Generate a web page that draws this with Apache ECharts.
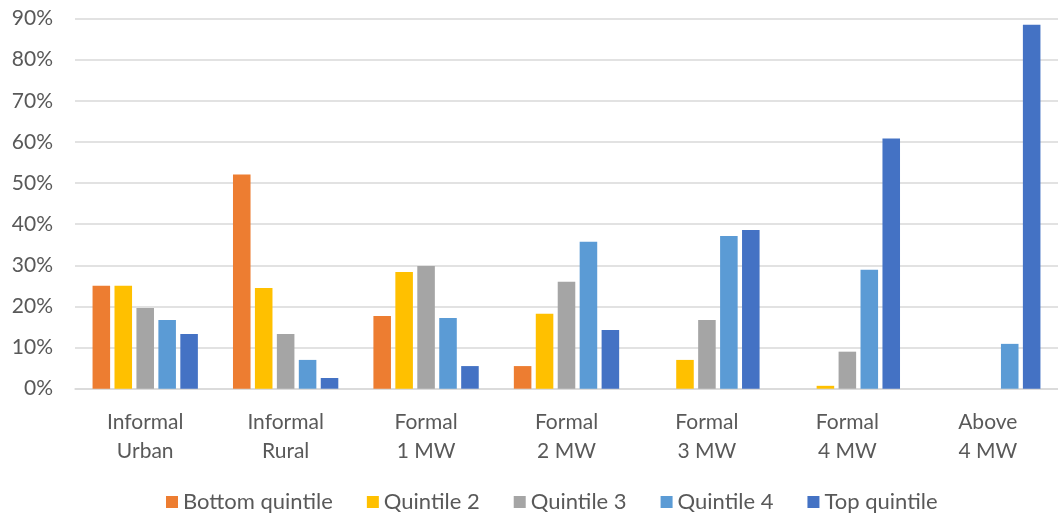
<!DOCTYPE html>
<html>
<head>
<meta charset="utf-8">
<script src="https://cdn.jsdelivr.net/npm/echarts@6/dist/echarts.min.js"></script>
<style>
  html, body { margin: 0; padding: 0; background: #ffffff; }
  #chart { width: 1058px; height: 516px; }
</style>
</head>
<body>
<div id="chart"></div>
<script>
// Grid-connection categories (two-line labels)
const categories = [
  'Informal\nUrban', 'Informal\nRural', 'Formal\n1 MW', 'Formal\n2 MW',
  'Formal\n3 MW', 'Formal\n4 MW', 'Above\n4 MW'
];

// Share of households per income quintile, in percent
const bottomQuintile = [25.0, 52.1, 17.7, 5.5, 0, 0, 0];
const quintile2      = [25.0, 24.5, 28.4, 18.2, 7.0, 0.7, 0];
const quintile3      = [19.6, 13.3, 29.8, 26.0, 16.7, 9.0, 0];
const quintile4      = [16.7, 7.0, 17.2, 35.7, 37.1, 28.9, 10.9];
const topQuintile    = [13.3, 2.6, 5.5, 14.3, 38.6, 60.8, 88.5];

const seriesNames = ['Bottom quintile', 'Quintile 2', 'Quintile 3', 'Quintile 4', 'Top quintile'];
const seriesValues = [bottomQuintile, quintile2, quintile3, quintile4, topQuintile];
const seriesColors = ['#ED7D31', '#FFC000', '#A5A5A5', '#5B9BD5', '#4472C4'];

const yTicks = { min: 0, max: 90, interval: 10 };

const fontFamily = 'Lato, "Open Sans", sans-serif';
const textColor = '#595959';

const chart = echarts.init(document.getElementById('chart'), null, { renderer: 'canvas' });

chart.setOption({
  animation: false,
  backgroundColor: '#ffffff',
  color: seriesColors,
  grid: { left: 75, right: 0, top: 18.5, bottom: 127.3, containLabel: false },
  legend: {
    data: seriesNames,
    top: 485,
    left: 161,
    icon: 'rect',
    itemWidth: 12,
    itemHeight: 12,
    itemGap: 34,
    textStyle: { color: textColor, fontFamily: fontFamily, fontSize: 22, lineHeight: 24 }
  },
  xAxis: {
    type: 'category',
    data: categories,
    axisLine: { show: true, lineStyle: { color: '#d9d9d9', width: 1.5 } },
    axisTick: { show: false },
    axisLabel: {
      color: textColor,
      fontFamily: fontFamily,
      fontSize: 21,
      lineHeight: 29,
      margin: 19,
      interval: 0
    }
  },
  yAxis: {
    type: 'value',
    min: yTicks.min,
    max: yTicks.max,
    interval: yTicks.interval,
    axisLine: { show: false },
    axisTick: { show: false },
    splitLine: { lineStyle: { color: '#d9d9d9', width: 1.5 } },
    axisLabel: {
      formatter: '{value}%',
      color: textColor,
      fontFamily: fontFamily,
      fontSize: 21,
      margin: 22
    }
  },
  series: seriesNames.map((name, i) => ({
    name: name,
    type: 'bar',
    data: seriesValues[i],
    barGap: '25%',
    barCategoryGap: '25%',
    itemStyle: { color: seriesColors[i] }
  }))
});
</script>
</body>
</html>
